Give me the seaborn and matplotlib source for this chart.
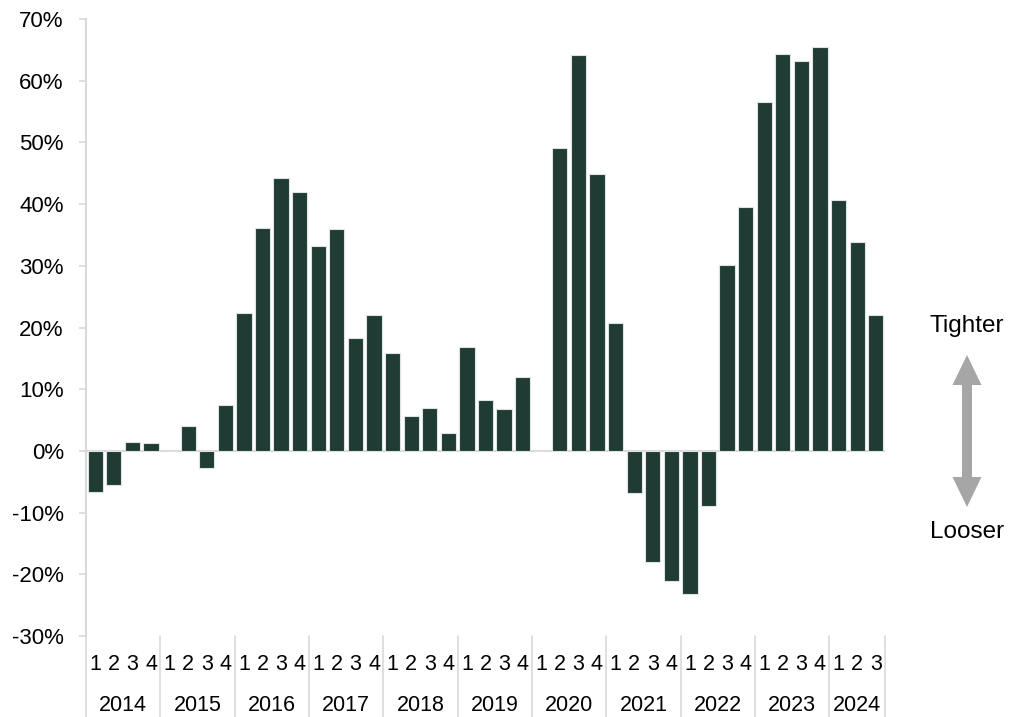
import numpy as np
import pandas as pd
import seaborn as sns
import matplotlib.pyplot as plt
from matplotlib.patches import FancyArrow
from matplotlib.ticker import FuncFormatter
import matplotlib.transforms as mtransforms

# data (net % of lenders tightening, by quarter)
years = ["2014", "2015", "2016", "2017", "2018", "2019",
         "2020", "2021", "2022", "2023", "2024"]
quarters = ["1", "2", "3", "4"]
n_quarters_last = 3

values = [
    -6.7, -5.6, 1.4, 1.2,        # 2014
    0.0, 4.0, -2.8, 7.4,         # 2015
    22.4, 36.1, 44.2, 42.0,      # 2016
    33.2, 36.0, 18.3, 22.1,      # 2017
    15.8, 5.6, 7.0, 2.9,         # 2018
    16.9, 8.2, 6.8, 12.0,        # 2019
    0.0, 49.1, 64.1, 44.8,       # 2020
    20.8, -6.8, -18.0, -21.1,    # 2021
    -23.2, -9.0, 30.2, 39.6,     # 2022
    56.6, 64.4, 63.2, 65.4,      # 2023
    40.6, 33.8, 22.1,            # 2024
]

year_col = []
qtr_col = []
for y in years:
    qs = quarters if y != years[-1] else quarters[:n_quarters_last]
    for q in qs:
        year_col.append(y)
        qtr_col.append(q)

df = pd.DataFrame({"year": year_col, "quarter": qtr_col, "value": values})
df["period"] = df["year"] + " Q" + df["quarter"]

sns.set_theme(style="white")
plt.rcParams["font.family"] = ["Liberation Sans", "DejaVu Sans"]
plt.rcParams["text.color"] = "black"
fs = 15.5
grey = "#D9D9D9"
bar_color = "#1F3B33"

fig = plt.figure(figsize=(10.10, 7.17), dpi=100)
ax = fig.add_axes([86 / 1010, 1 - 636 / 717, 799 / 1010, 617 / 717])

sns.barplot(data=df, x="period", y="value", order=list(df["period"]),
            color=bar_color, width=0.82, edgecolor="#DDE3E0", linewidth=0.8,
            saturation=1, ax=ax)

ax.set_ylim(-30, 70)
ax.set_xlim(-0.5, len(df) - 0.5)
ax.set_yticks(np.arange(-30, 71, 10))
ax.yaxis.set_major_formatter(FuncFormatter(lambda v, p: f"{v:.0f}%"))
ax.tick_params(axis="y", left=True, length=5, width=1.2, color=grey,
               pad=11, labelsize=16, labelcolor="black")
ax.set_xticks([])
ax.set_xlabel("")
ax.set_ylabel("")

for s in ["top", "right", "bottom"]:
    ax.spines[s].set_visible(False)
ax.spines["left"].set_color(grey)
ax.spines["left"].set_linewidth(1.5)
ax.axhline(0, color=grey, lw=1.5, zorder=0.5)

# two-level x labels
trans = mtransforms.blended_transform_factory(ax.transData, ax.transAxes)
for i, q in enumerate(df["quarter"]):
    ax.text(i, -0.047, q, transform=trans, ha="center", va="center",
            fontsize=fs, color="black")

pos = 0
bounds = [-0.5]
for y in years:
    n = int((df["year"] == y).sum())
    ax.text(pos + (n - 1) / 2, -0.112, y, transform=trans, ha="center",
            va="center", fontsize=fs, color="black")
    pos += n
    bounds.append(pos - 0.5)
for b in bounds:
    ax.plot([b, b], [0, -0.135], transform=trans, color=grey, lw=1.2,
            clip_on=False)

# tighter / looser arrow in pixel coordinates
ov = fig.add_axes([0, 0, 1, 1], facecolor="none")
ov.set_xlim(0, 1010)
ov.set_ylim(717, 0)
ov.axis("off")
arrow_kw = dict(width=10, head_width=29, head_length=30,
                length_includes_head=True, color="#A6A6A6", lw=0)
ov.add_patch(FancyArrow(967, 431, 0, -76, **arrow_kw))
ov.add_patch(FancyArrow(967, 431, 0, 76, **arrow_kw))
ov.text(967, 326, "Tighter", ha="center", va="center", fontsize=17.5,
        color="black")
ov.text(967, 532, "Looser", ha="center", va="center", fontsize=17.5,
        color="black")

fig.savefig("out.png", dpi=100)
